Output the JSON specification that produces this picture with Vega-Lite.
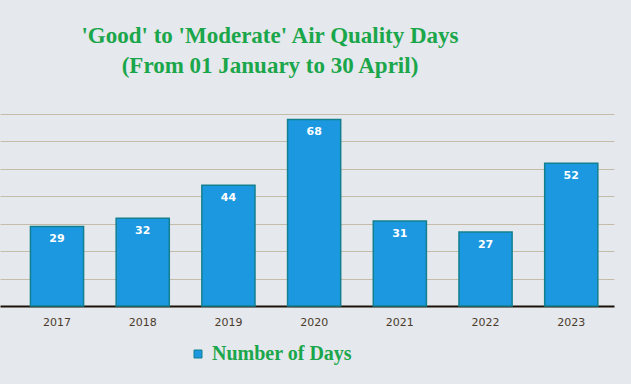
{
  "$schema": "https://vega.github.io/schema/vega-lite/v6.json",
  "autosize": {"type": "none"},
  "width": 614,
  "height": 192,
  "padding": {"left": 0, "top": 114, "right": 17, "bottom": 78},
  "background": "#e5e8ed",
  "title": {
    "text": ["'Good' to 'Moderate' Air Quality Days", "(From 01 January to 30 April)"],
    "font": "Liberation Serif",
    "fontSize": 23,
    "fontWeight": "bold",
    "color": "#1aa64a",
    "lineHeight": 30,
    "anchor": "middle",
    "dx": -37,
    "offset": 36
  },
  "data": {
    "values": [
      {"year": "2017", "days": 29},
      {"year": "2018", "days": 32},
      {"year": "2019", "days": 44},
      {"year": "2020", "days": 68},
      {"year": "2021", "days": 31},
      {"year": "2022", "days": 27},
      {"year": "2023", "days": 52}
    ]
  },
  "config": {"view": {"stroke": null}},
  "encoding": {
    "x": {
      "field": "year",
      "type": "nominal",
      "sort": null,
      "scale": {"paddingInner": 0.38, "paddingOuter": 0.272, "align": 0.653},
      "axis": {
        "title": null,
        "labelAngle": 0,
        "labelFont": "DejaVu Sans",
        "labelFontSize": 11,
        "labelColor": "#4b3b2b",
        "labelPadding": 10,
        "ticks": false,
        "domainColor": "#1a1208",
        "domainWidth": 2,
        "grid": false
      }
    },
    "y": {
      "field": "days",
      "type": "quantitative",
      "scale": {"domain": [0, 70]},
      "axis": {
        "title": null,
        "labels": false,
        "ticks": false,
        "domain": false,
        "values": [10, 20, 30, 40, 50, 60, 70],
        "grid": true,
        "gridColor": "#c4bba9",
        "gridWidth": 1
      }
    }
  },
  "layer": [
    {
      "mark": {"type": "bar", "stroke": "#13808f", "strokeWidth": 1.5},
      "encoding": {
        "color": {
          "datum": "Number of Days",
          "scale": {"range": ["#1b98e0"]},
          "legend": {
            "title": null,
            "orient": "none",
            "legendX": 188,
            "legendY": 230,
            "symbolType": "square",
            "symbolSize": 64,
            "symbolStrokeColor": "#13808f",
            "symbolStrokeWidth": 1,
            "labelFont": "Liberation Serif",
            "labelFontSize": 20,
            "labelFontWeight": "bold",
            "labelColor": "#1aa64a",
            "labelOffset": 4
          }
        }
      }
    },
    {
      "mark": {
        "type": "text",
        "color": "white",
        "font": "DejaVu Sans",
        "fontSize": 11,
        "fontWeight": "bold",
        "baseline": "middle",
        "dy": 13
      },
      "encoding": {"text": {"field": "days", "type": "quantitative"}}
    }
  ]
}
